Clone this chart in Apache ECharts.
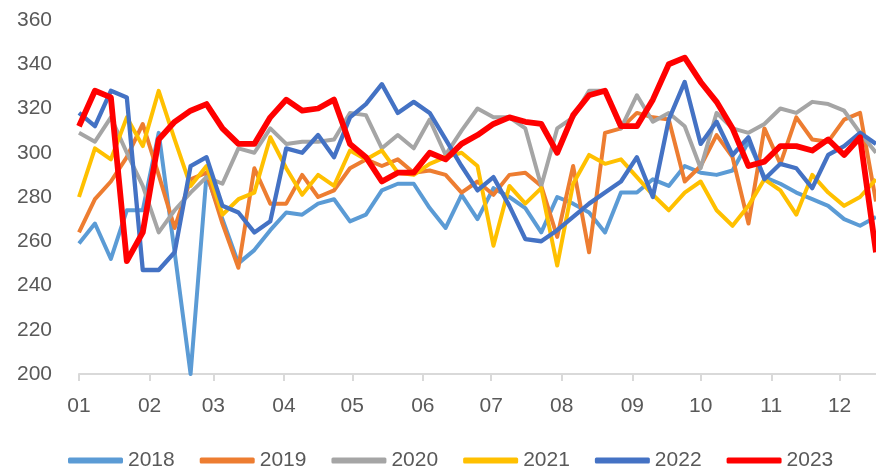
<!DOCTYPE html>
<html><head><meta charset="utf-8">
<script src="https://cdn.jsdelivr.net/npm/echarts@6/dist/echarts.min.js"></script>
<style>html,body{margin:0;padding:0;background:#fff}#c{width:876px;height:467px}</style>
</head><body><div id="c"></div>
<script>
// Day-of-year of each weekly observation
const weekDays = [0,7,14,21,28,35,42,49,56,63,70,77,84,91,98,105,112,119,126,133,140,147,154,161,168,175,182,189,196,203,210,217,224,231,238,245,252,259,266,273,280,287,294,301,308,315,322,329,336,343,350];
// Month start days and tick labels
const monthStarts = [0,31,59,90,120,151,181,212,243,273,304,334];
const monthLabels = ['01','02','03','04','05','06','07','08','09','10','11','12'];
const yTicks = [200,220,240,260,280,300,320,340,360];
const seriesNames = ['2018','2019','2020','2021','2022','2023'];

const s2018 = [259,268,252,274,274,309,255,200,290,270,250,256,265,273,272,277,279,269,272,283,286,286,275,266,281,270,284,280,275,264,280,277,273,264,282,282,288,285,294,291,290,292,305,289,286,282,279,276,270,267,271];
const s2019 = [264,279,287,298,313,290,266,288,291,268,248,293,277,277,290,280,283,293,297,294,297,291,292,290,282,287,281,290,291,285,262,294,255,309,311,318,316,315,287,294,308,298,268,311,295,316,306,305,315,318,278];
const s2020 = [309,305,316,300,285,264,274,282,289,286,302,300,311,304,305,305,306,318,317,302,308,302,315,299,310,320,316,316,311,285,311,316,328,328,311,326,314,318,312,293,318,311,309,313,320,318,323,322,319,309,300];
const s2021 = [280,302,297,316,303,328,306,285,294,272,279,282,307,293,281,290,285,301,297,301,291,290,295,298,300,294,258,285,277,284,249,286,299,295,297,289,281,274,282,287,274,267,276,288,283,272,290,282,276,280,288];
const s2022 = [318,312,328,325,247,247,255,294,298,276,273,264,269,302,300,308,298,316,322,331,318,323,318,306,294,283,289,276,261,260,265,271,277,282,287,298,280,315,332,304,314,299,307,288,295,293,284,299,303,309,304];
const s2023 = [312,328,325,251,264,306,314,319,322,311,304,304,316,324,319,320,324,304,298,287,291,291,300,297,304,308,313,316,314,313,300,317,326,328,312,312,324,340,343,332,323,311,294,296,303,303,301,306,299,307,255];

const allValues = [s2018,s2019,s2020,s2021,s2022,s2023];
const colors = ['#5B9BD5','#ED7D31','#A5A5A5','#FFC000','#4472C4','#FF0000'];
const widths = [4,4,4,4,4.3,5.8];
const FONT = 'Liberation Sans';

const chart = echarts.init(document.getElementById('c'), null, {renderer:'canvas'});
chart.setOption({
  animation:false,
  backgroundColor:'#fff',
  grid:{left:79,right:0,top:20,bottom:93,containLabel:false},
  xAxis:{
    type:'value', min:0, max:350,
    axisLine:{show:true,lineStyle:{color:'#d9d9d9',width:2}},
    axisTick:{show:true,customValues:monthStarts,length:7,lineStyle:{color:'#d9d9d9',width:2}},
    axisLabel:{show:true,customValues:monthStarts,formatter:function(v){const k=monthStarts.indexOf(Math.round(v));return k>=0?monthLabels[k]:'';},
      margin:22,color:'#595959',fontSize:21,fontFamily:FONT},
    splitLine:{show:false}
  },
  yAxis:{
    type:'value', min:yTicks[0], max:yTicks[yTicks.length-1], interval:yTicks[1]-yTicks[0],
    axisLine:{show:false}, axisTick:{show:false}, splitLine:{show:false},
    axisLabel:{margin:27,color:'#595959',fontSize:21,fontFamily:FONT}
  },
  legend:{
    show:true, left:63, top:445, itemGap:25, itemWidth:55, itemHeight:6, icon:'roundRect',
    textStyle:{color:'#595959',fontSize:21,fontFamily:FONT},
    data:seriesNames
  },
  series: seriesNames.map(function(name,k){
    return {
      name:name, type:'line', symbol:'none', smooth:false,
      color:colors[k],
      lineStyle:{color:colors[k],width:widths[k],join:'round'},
      data: weekDays.map(function(d,i){return [d, allValues[k][i]];}),
      z: 2+k
    };
  })
});
</script></body></html>
